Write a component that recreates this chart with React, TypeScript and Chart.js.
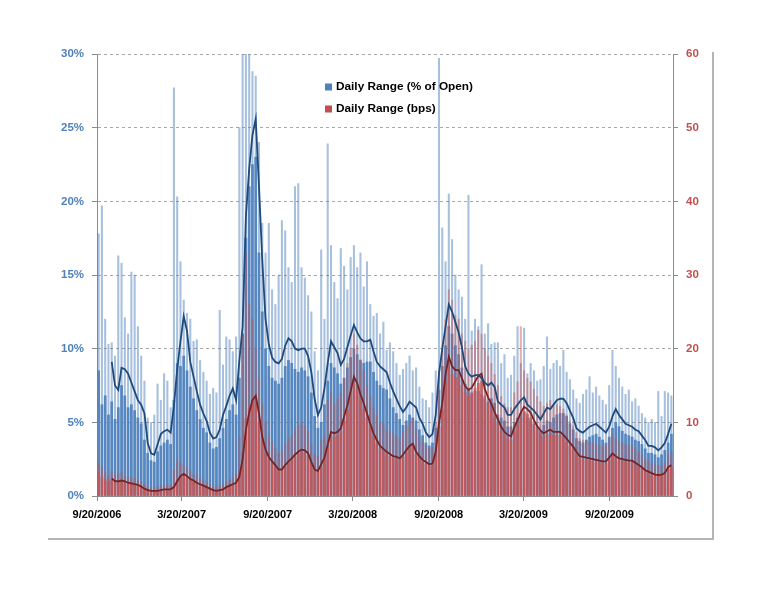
import React, { useEffect, useRef } from 'react';
import { Chart, registerables } from 'chart.js';
Chart.register(...registerables);

// weekly samples, first week starts on the first axis date
const startDate = '2006-09-20';
const tickDates = ['2006-09-20', '2007-03-20', '2007-09-20', '2008-03-20', '2008-09-20', '2009-03-20', '2009-09-20'];
const tickLabels = ['9/20/2006', '3/20/2007', '9/20/2007', '3/20/2008', '9/20/2008', '3/20/2009', '9/20/2009'];
const seriesLabels = ['Daily Range (% of Open)', 'Daily Range (bps)'];

// Daily Range (% of Open): typical bar height of each week
const pctBody = [
  8.5, 6.2, 6.8, 5.5, 6.4, 5.2, 6.0, 7.5, 6.8, 6.0,
  6.2, 5.8, 5.3, 4.9, 3.8, 2.9, 2.4, 2.3, 3.0, 3.4,
  3.6, 3.8, 3.5, 6.5, 9.0, 8.8, 9.5, 8.5, 7.4, 6.6,
  5.8, 5.2, 4.6, 4.3, 3.6, 3.2, 3.3, 3.9, 4.6, 5.2,
  5.8, 6.2, 5.5, 8.0, 11.0, 17.5, 21.0, 22.5, 23.0, 16.5,
  12.5, 10.0, 8.8, 8.0, 7.8, 7.6, 8.0, 8.8, 9.2, 9.0,
  8.6, 8.4, 8.7, 8.5, 8.1, 7.0, 5.4, 4.6, 5.0, 6.2,
  7.8, 9.0, 8.7, 8.3, 7.6, 8.0, 8.7, 9.4, 10.0, 9.6,
  9.2, 9.0, 9.1, 9.1, 8.4, 7.8, 7.5, 7.3, 7.2, 6.6,
  6.0, 5.6, 5.2, 4.8, 5.1, 5.5, 5.3, 5.1, 4.5, 4.1,
  3.6, 3.4, 3.6, 4.6, 7.2, 8.8, 10.2, 11.5, 11.0, 10.2,
  9.6, 8.7, 7.6, 7.2, 7.0, 7.1, 7.1, 6.9, 6.6, 6.4,
  6.6, 6.3, 5.5, 5.3, 5.1, 4.7, 4.7, 5.0, 5.3, 5.6,
  5.7, 5.3, 5.1, 4.9, 4.7, 4.4, 4.8, 5.1, 5.0, 5.3,
  5.5, 5.6, 5.6, 5.4, 4.9, 4.5, 3.9, 3.7, 3.6, 3.8,
  4.0, 4.1, 4.2, 4.0, 3.8, 3.6, 4.0, 4.6, 5.0, 4.7,
  4.4, 4.2, 4.1, 4.0, 3.8, 3.7, 3.5, 3.2, 2.9, 2.9,
  2.8, 2.6, 2.8, 3.1, 3.6, 4.2,
];
// Daily Range (% of Open): tallest day of each week
const pctPeak = [
  17.8, 19.7, 12.0, 10.3, 10.4, 9.5, 16.3, 15.8, 12.1, 11.0,
  15.2, 15.0, 11.5, 9.5, 7.8, 5.3, 5.0, 5.5, 7.6, 6.5,
  8.3, 7.8, 6.0, 27.7, 20.3, 15.9, 13.3, 12.4, 12.0, 10.5,
  10.6, 9.2, 8.4, 7.8, 6.9, 7.3, 7.0, 12.6, 8.9, 10.8,
  10.6, 9.8, 10.8, 25.0, 30.5, 31.0, 30.5, 28.8, 28.5, 24.0,
  18.5, 16.5, 18.5, 14.0, 13.0, 15.0, 18.7, 18.0, 15.5, 14.5,
  21.0, 21.2, 15.5, 14.8, 13.6, 12.5, 9.8, 8.5, 16.7, 12.0,
  23.9, 17.0, 14.5, 13.4, 16.8, 15.6, 14.0, 16.2, 17.0, 15.5,
  16.5, 14.2, 15.9, 13.0, 12.2, 12.4, 11.0, 11.8, 9.9, 10.4,
  9.8, 9.0, 8.2, 8.6, 9.0, 9.5, 8.5, 8.7, 7.4, 6.6,
  6.5, 6.0, 7.0, 8.5, 29.7, 18.2, 15.9, 20.5, 17.4, 15.0,
  14.0, 13.5, 12.0, 20.4, 11.2, 12.0, 11.5, 15.7, 11.0, 11.7,
  10.3, 10.4, 10.4, 9.0, 9.6, 8.0, 8.2, 9.5, 11.5, 9.0,
  11.4, 8.3, 9.0, 8.5, 7.8, 7.9, 8.8, 10.8, 8.6, 9.0,
  9.2, 8.8, 9.9, 8.4, 7.9, 7.2, 6.6, 6.3, 6.9, 7.2,
  8.1, 7.0, 7.4, 6.8, 6.5, 6.2, 7.5, 9.9, 8.8, 8.0,
  7.4, 6.9, 7.2, 6.4, 6.6, 6.1, 5.6, 5.3, 5.0, 5.2,
  5.0, 7.1, 5.4, 7.1, 7.0, 6.8,
];
// moving average of % of Open
const pctAvg = [
  null, null, null, null, 9.1, 7.5, 7.2, 8.7, 8.6, 8.3,
  7.7, 7.1, 6.5, 6.2, 5.6, 3.6, 2.9, 2.8, 3.5, 4.2,
  4.4, 4.5, 4.3, 6.1, 8.6, 10.5, 12.2, 11.2, 9.1, 8.1,
  7.1, 6.2, 5.6, 5.1, 4.3, 3.9, 4.0, 4.5, 5.5, 6.1,
  6.8, 7.3, 6.5, 9.2, 11.5, 19.0, 22.2, 24.5, 25.6, 21.0,
  16.0, 12.0, 10.3, 9.4, 9.1, 9.0, 9.3, 10.2, 10.7, 10.5,
  10.0, 9.9, 10.0, 10.0, 9.5, 8.4, 6.6, 5.5, 6.0, 7.3,
  9.0, 10.5, 10.1, 9.7, 8.9, 9.3, 10.1, 10.9, 11.6, 11.1,
  10.7, 10.5, 10.5, 10.6, 9.8, 9.1, 8.8, 8.6, 8.4, 7.7,
  7.1, 6.6, 6.1, 5.7, 6.0, 6.4, 6.2, 6.0, 5.3, 4.9,
  4.3, 4.0, 4.2, 5.5, 8.3, 10.0, 11.5, 13.0, 12.5, 11.8,
  11.1, 10.1, 8.8, 8.3, 8.1, 8.2, 8.2, 8.0, 7.7, 7.5,
  7.7, 7.4, 6.4, 6.2, 6.0, 5.5, 5.5, 5.9, 6.2, 6.5,
  6.7, 6.2, 6.0, 5.8, 5.5, 5.2, 5.6, 6.0, 5.9, 6.2,
  6.5, 6.6, 6.6, 6.3, 5.8, 5.3, 4.6, 4.4, 4.3, 4.5,
  4.7, 4.8, 4.9, 4.7, 4.5, 4.3, 4.7, 5.4, 5.9, 5.5,
  5.2, 4.9, 4.8, 4.7, 4.5, 4.4, 4.1, 3.8, 3.4, 3.4,
  3.3, 3.1, 3.3, 3.6, 4.2, 4.9,
];

// Daily Range (bps): typical bar height of each week
const bpsBody = [
  3.2, 2.6, 2.2, 2.0, 2.2, 1.8, 1.9, 2.0, 1.8, 1.7,
  1.6, 1.5, 1.4, 1.2, 0.9, 0.7, 0.6, 0.6, 0.6, 0.7,
  0.8, 0.8, 0.8, 1.3, 2.2, 2.6, 2.8, 2.5, 2.1, 1.9,
  1.7, 1.5, 1.3, 1.1, 0.9, 0.7, 0.6, 0.7, 0.9, 1.1,
  1.3, 1.5, 1.7, 3.0, 6.0, 10.5, 12.0, 13.0, 13.5, 10.0,
  7.5, 5.9, 5.0, 4.4, 3.9, 3.4, 3.4, 4.0, 4.4, 4.8,
  5.3, 5.6, 5.9, 5.8, 5.4, 4.3, 3.4, 3.2, 4.0, 4.9,
  6.6, 8.2, 8.0, 8.2, 8.7, 10.2, 11.6, 13.4, 15.2, 14.4,
  13.0, 11.8, 10.5, 9.2, 8.0, 7.1, 6.4, 6.0, 5.6, 5.4,
  5.1, 5.0, 4.8, 5.3, 5.8, 6.4, 6.7, 5.6, 5.1, 4.6,
  4.3, 4.0, 4.1, 5.6, 9.3, 11.8, 15.5, 17.8, 16.5, 16.1,
  16.1, 15.0, 14.0, 13.5, 13.8, 14.6, 15.3, 15.6, 13.6, 12.6,
  11.8, 10.7, 9.8, 8.8, 8.2, 7.8, 7.6, 8.7, 9.7, 10.6,
  11.4, 11.1, 10.6, 9.7, 8.9, 8.4, 8.0, 8.3, 8.5, 8.2,
  8.2, 8.2, 7.8, 7.3, 6.8, 6.3, 5.6, 5.1, 5.0, 4.9,
  4.8, 4.7, 4.6, 4.5, 4.4, 4.4, 4.9, 5.5, 5.1, 4.8,
  4.7, 4.6, 4.5, 4.5, 4.2, 3.9, 3.7, 3.3, 3.1, 2.9,
  2.7, 2.7, 2.7, 2.9, 3.7, 4.0,
];
// Daily Range (bps): tallest day of each week
const bpsPeak = [
  4.5, 4.0, 3.2, 2.8, 3.4, 2.9, 3.0, 3.3, 2.7, 2.6,
  2.5, 2.4, 2.2, 1.9, 1.6, 1.3, 1.1, 1.2, 1.2, 1.4,
  1.5, 1.6, 1.4, 3.5, 4.8, 4.5, 4.2, 3.9, 3.4, 3.0,
  2.7, 2.4, 2.1, 1.8, 1.6, 1.3, 1.2, 1.5, 1.6, 1.9,
  2.2, 2.5, 3.0, 8.0, 22.0, 33.0, 26.0, 24.0, 20.0, 16.0,
  12.5, 10.0, 8.2, 7.4, 6.5, 5.8, 6.0, 7.0, 7.8, 8.2,
  9.0, 9.6, 10.0, 9.5, 8.8, 7.0, 5.7, 5.4, 7.5, 8.2,
  13.0, 14.0, 12.5, 13.2, 14.0, 16.0, 18.0, 20.0, 22.0, 20.5,
  18.5, 17.0, 15.0, 13.5, 12.0, 11.0, 10.0, 9.8, 9.0, 8.8,
  8.5, 8.2, 7.8, 8.8, 9.5, 10.2, 10.5, 9.0, 8.0, 7.2,
  6.8, 6.4, 6.6, 10.0, 17.0, 20.0, 24.0, 28.0, 26.6, 24.5,
  24.0, 22.0, 21.0, 20.0, 20.5, 21.0, 22.5, 22.0, 20.0, 19.0,
  18.0, 16.5, 15.0, 13.5, 12.5, 12.0, 12.0, 14.0, 15.5, 23.0,
  17.0, 16.0, 15.5, 14.5, 13.5, 12.8, 12.2, 12.6, 13.0, 12.4,
  12.4, 12.2, 11.8, 11.0, 10.2, 9.5, 8.6, 7.8, 7.6, 7.5,
  7.3, 7.2, 7.0, 6.9, 6.8, 6.8, 7.5, 8.4, 7.8, 7.4,
  7.2, 7.0, 6.9, 6.9, 6.5, 6.0, 5.6, 5.0, 4.8, 4.5,
  4.2, 4.1, 4.2, 4.5, 5.6, 6.0,
];
// moving average of bps
const bpsAvg = [
  null, null, null, null, 2.4, 2.0, 2.0, 2.1, 2.0, 1.8,
  1.7, 1.6, 1.5, 1.3, 1.0, 0.8, 0.7, 0.7, 0.7, 0.8,
  0.9, 0.9, 0.9, 1.2, 2.0, 2.7, 3.0, 2.7, 2.3, 2.1,
  1.8, 1.6, 1.4, 1.2, 1.0, 0.8, 0.7, 0.8, 0.9, 1.2,
  1.4, 1.6, 1.8, 2.6, 5.0, 9.0, 11.3, 13.0, 13.6, 11.2,
  8.0, 6.3, 5.3, 4.7, 4.2, 3.6, 3.6, 4.2, 4.7, 5.1,
  5.6, 6.0, 6.3, 6.2, 5.8, 4.6, 3.6, 3.4, 4.3, 5.2,
  7.0, 8.7, 8.5, 8.7, 9.2, 10.8, 12.3, 14.2, 16.2, 15.3,
  13.8, 12.6, 11.2, 9.8, 8.5, 7.6, 6.8, 6.4, 6.0, 5.7,
  5.4, 5.3, 5.1, 5.6, 6.2, 6.8, 7.1, 6.0, 5.4, 4.9,
  4.6, 4.3, 4.4, 6.0, 9.9, 12.6, 16.5, 18.9, 17.6, 17.1,
  17.1, 16.0, 14.9, 14.4, 14.7, 15.5, 16.3, 16.6, 14.5, 13.4,
  12.5, 11.4, 10.4, 9.4, 8.7, 8.3, 8.1, 9.3, 10.3, 11.3,
  12.1, 11.8, 11.3, 10.3, 9.5, 8.9, 8.5, 8.8, 9.0, 8.7,
  8.7, 8.7, 8.3, 7.8, 7.2, 6.7, 6.0, 5.4, 5.3, 5.2,
  5.1, 5.0, 4.9, 4.8, 4.7, 4.7, 5.2, 5.8, 5.4, 5.1,
  5.0, 4.9, 4.8, 4.8, 4.5, 4.2, 3.9, 3.5, 3.3, 3.1,
  2.9, 2.85, 2.9, 3.1, 3.9, 4.2,
];

const BLUE = '#4F81BD';
const RED = '#C0504D';
const FONT = "'Liberation Sans', Arial, sans-serif";

const dayOf = (iso: string) => (Date.parse(iso) - Date.parse(startDate)) / 86400000;
// each weekly sample sits in the middle of its week
const toPoints = (values: (number | null)[]) => values.map((y, i) => ({ x: i * 7 + 3.5, y }));

const legendPlugin = {
  id: 'insideLegend',
  afterDraw(chart: Chart) {
    const { ctx, chartArea } = chart;
    const left = chartArea.left + 228;
    const top = chartArea.top + 33;
    ctx.save();
    ctx.font = `bold 11.8px ${FONT}`;
    ctx.textBaseline = 'middle';
    [BLUE, RED].forEach((color, k) => {
      const y = top + k * 22;
      ctx.fillStyle = color;
      ctx.fillRect(left, y - 3.5, 7, 7);
      ctx.fillStyle = '#000';
      ctx.fillText(seriesLabels[k], left + 11, y);
    });
    ctx.restore();
  },
};

const RangeChart = () => {
  const canvasRef = useRef<HTMLCanvasElement | null>(null);

  useEffect(() => {
    if (!canvasRef.current) return;
    const tickDays = tickDates.map(dayOf);
    const bar = (data: number[], color: string, width: number, axis: string, order: number) => ({
      type: 'bar' as const,
      data: toPoints(data),
      backgroundColor: color,
      barThickness: width,
      grouped: false,
      borderWidth: 0,
      yAxisID: axis,
      order,
    });
    const line = (data: (number | null)[], color: string, axis: string) => ({
      type: 'line' as const,
      data: toPoints(data),
      borderColor: color,
      borderWidth: 1.8,
      pointRadius: 0,
      tension: 0,
      yAxisID: axis,
      order: 0,
    });

    const chart = new Chart(canvasRef.current, {
      type: 'bar',
      data: {
        datasets: [
          bar(pctPeak, 'rgba(79,129,189,0.5)', 1.4, 'y', 5),
          bar(pctBody, 'rgba(79,129,189,0.92)', 2.1, 'y', 4),
          bar(bpsPeak, 'rgba(192,80,77,0.45)', 1.4, 'y1', 3),
          bar(bpsBody, 'rgba(200,85,82,0.8)', 2.1, 'y1', 2),
          line(pctAvg, '#1F4A7C', 'y'),
          line(bpsAvg, '#7A2320', 'y1'),
        ] as any,
      },
      options: {
        animation: false,
        responsive: false,
        maintainAspectRatio: false,
        layout: { padding: { top: 54, left: 0, right: 0, bottom: 0 } },
        plugins: { legend: { display: false }, tooltip: { enabled: false } },
        scales: {
          x: {
            type: 'linear',
            min: 0,
            max: pctBody.length * 7,
            offset: false,
            grid: { offset: false, drawOnChartArea: false, tickLength: 5, tickColor: '#8c8c8c' },
            border: { color: '#8c8c8c', width: 1 },
            afterBuildTicks: (scale: any) => {
              scale.ticks = tickDays.map((value) => ({ value }));
            },
            afterFit: (scale: any) => {
              scale.height = 97;
            },
            ticks: {
              color: '#000',
              padding: 7,
              maxRotation: 0,
              autoSkip: false,
              font: { family: FONT, size: 11, weight: 'bold' },
              callback: (value: any) => tickLabels[tickDays.indexOf(Number(value))] ?? '',
            },
          },
          y: {
            position: 'left',
            min: 0,
            max: 30,
            grid: { color: '#a8a8a8', tickLength: 5, tickColor: '#8c8c8c' },
            border: { color: '#8c8c8c', width: 1, dash: [3, 3] },
            afterFit: (scale: any) => {
              scale.width = 97;
            },
            ticks: {
              stepSize: 5,
              padding: 8,
              color: BLUE,
              font: { family: FONT, size: 11.5, weight: 'bold' },
              callback: (value: any) => `${value}%`,
            },
          },
          y1: {
            position: 'right',
            min: 0,
            max: 60,
            grid: { drawOnChartArea: false, tickLength: 5, tickColor: '#8c8c8c' },
            border: { color: '#8c8c8c', width: 1 },
            afterFit: (scale: any) => {
              scale.width = 95;
            },
            ticks: {
              stepSize: 10,
              padding: 8,
              color: RED,
              font: { family: FONT, size: 11.5, weight: 'bold' },
            },
          },
        },
      } as any,
      plugins: [legendPlugin],
    });

    return () => {
      chart.destroy();
    };
  }, []);

  return <canvas ref={canvasRef} width={768} height={593} style={{ display: 'block' }} />;
};

const App = () => (
  <div style={{ position: 'absolute', left: 0, top: 0, width: 768, height: 593, background: '#fff' }}>
    {/* grey outer frame shown at right and bottom */}
    <div
      style={{
        position: 'absolute',
        left: 48,
        top: 52,
        width: 666,
        height: 488,
        boxSizing: 'border-box',
        borderRight: '2px solid #b4b4b4',
        borderBottom: '2px solid #b4b4b4',
      }}
    />
    <div style={{ position: 'absolute', left: 0, top: 0 }}>
      <RangeChart />
    </div>
  </div>
);

export default App;
